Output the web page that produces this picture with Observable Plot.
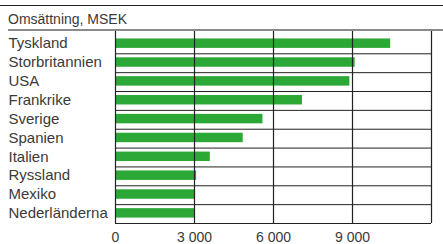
<!DOCTYPE html>
<html>
<head>
<meta charset="utf-8">
<script src="https://cdn.jsdelivr.net/npm/d3@7"></script>
<script src="https://cdn.jsdelivr.net/npm/@observablehq/plot@0.6"></script>
<style>
  html, body { margin: 0; padding: 0; background: #fff; }
  #wrap { position: relative; width: 443px; height: 244px; overflow: hidden; font-family: "Liberation Sans", Arial, sans-serif; }
  #topline { position: absolute; left: 0; top: 4.5px; width: 443px; height: 1px; background: #222; }
  #title { position: absolute; left: 8px; top: 11px; font-size: 14px; line-height: 16px; color: #3a3a3a; white-space: nowrap; }
  #chart { position: absolute; left: 0; top: 26px; }
  #headline { position: absolute; left: 8px; top: 29px; width: 435px; height: 2px; background: #8a8a8a; }
</style>
</head>
<body>
<div id="wrap">
  <div id="topline"></div>
  <div id="title">Omsättning, MSEK</div>
  <div id="chart"></div>
  <div id="headline"></div>
</div>
<script>
const countries = ["Tyskland", "Storbritannien", "USA", "Frankrike", "Sverige", "Spanien", "Italien", "Ryssland", "Mexiko", "Nederländerna"];
const values = [10450, 9100, 8900, 7100, 5600, 4850, 3600, 3080, 3040, 3000];
const xTicks = [0, 3000, 6000, 9000];
const tickLabels = ["0", "3 000", "6 000", "9 000"];
const gridX = [0, 3000, 6000, 9000, 12000];

const rows = countries.map((c, i) => ({country: c, value: values[i], idx: i}));
const yTop = -0.236;
const textColor = "#3a3a3a";
const lineColor = "#222";

const chart = Plot.plot({
  width: 443,
  height: 218,
  marginTop: 4,
  marginBottom: 21,
  marginLeft: 115,
  marginRight: 12,
  style: {fontFamily: "Liberation Sans, Arial, sans-serif", background: "transparent"},
  x: {domain: [0, 12000], label: null},
  y: {domain: [yTop, countries.length], reverse: true, axis: null},
  marks: [
    Plot.rect(rows, {x1: 0, x2: "value", y1: d => d.idx, y2: d => d.idx + 1, insetTop: 4, insetBottom: 5.4, fill: "#2ca836"}),
    Plot.ruleX(gridX, {stroke: lineColor, strokeWidth: 1.2}),
    Plot.ruleY(rows.slice(1), {y: d => d.idx, x1: 0, x2: 12000, stroke: lineColor, strokeWidth: 1}),
    Plot.ruleY([countries.length], {x1: 0, x2: 12000, stroke: lineColor, strokeWidth: 1.2}),
    Plot.axisX(xTicks, {tickSize: 0, tickPadding: 9, fontSize: 14, fill: textColor, label: null, tickFormat: (d, i) => tickLabels[i]}),
    Plot.text(rows, {text: "country", y: d => d.idx + 0.46, frameAnchor: "left", textAnchor: "start", dx: -107, fontSize: 15, fill: textColor})
  ]
});
document.getElementById("chart").appendChild(chart);
</script>
</body>
</html>
